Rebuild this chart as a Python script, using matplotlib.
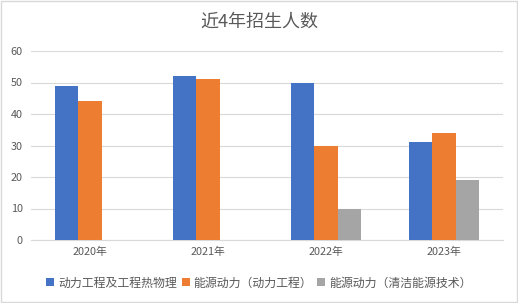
import matplotlib
matplotlib.use("Agg")
import matplotlib.pyplot as plt
import numpy as np

plt.rcParams['font.family'] = ['Noto Sans CJK SC', 'DejaVu Sans']

years = ["2020年", "2021年", "2022年", "2023年"]
series_names = ["动力工程及工程热物理", "能源动力（动力工程）", "能源动力（清洁能源技术）"]
power_eng = [49, 52, 50, 31]
energy_power = [44, 51, 30, 34]
clean_energy = [0, 0, 10, 19]
colors = ["#4472C4", "#ED7D31", "#A5A5A5"]

fig = plt.figure(figsize=(5.18, 3.03), dpi=100)
ax = fig.add_axes([31 / 518, 1 - 240 / 303, 472 / 518, 189 / 303])

x = np.arange(len(years))
w = 0.195
for i, (vals, c, name) in enumerate(zip([power_eng, energy_power, clean_energy], colors, series_names)):
    ax.bar(x + (i - 1) * w, vals, width=w, color=c, label=name, zorder=3)

ax.set_xlim(-0.5, 3.5)
ax.set_ylim(0, 60)
ax.set_yticks(range(0, 61, 10))
ax.set_xticks(x)
ax.set_xticklabels(years)
ax.grid(axis="y", color="#D9D9D9", linewidth=0.8, zorder=0)
for s in ["top", "right", "left"]:
    ax.spines[s].set_visible(False)
ax.spines["bottom"].set_color("#D9D9D9")
ax.tick_params(length=0, labelsize=7.8, colors="#595959")
ax.tick_params(axis="y", pad=6)
ax.tick_params(axis="x", pad=5)

fig.text(0.5, 1 - 22 / 303, "近4年招生人数", ha="center", va="center", fontsize=13, color="#595959")

fig.legend(loc="center", bbox_to_anchor=(0.5, 1 - 283 / 303), ncol=3, frameon=False,
           fontsize=8.6, labelcolor="#595959", handlelength=0.65, handleheight=0.65,
           handletextpad=0.35, columnspacing=0.4)

fig.patches.append(plt.Rectangle((0.001, 0.002), 0.997, 0.995, transform=fig.transFigure,
                                 fill=False, edgecolor="#D9D9D9", linewidth=1))

fig.savefig("out.png", dpi=100)
